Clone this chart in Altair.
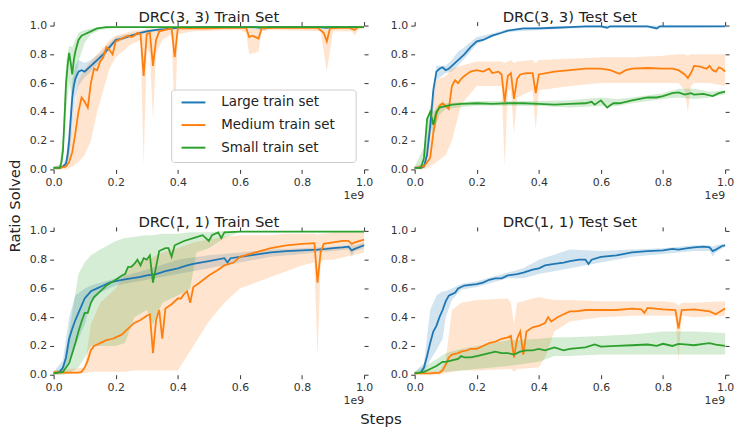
import altair as alt
import pandas as pd

SERIES = ["Large train set", "Medium train set", "Small train set"]
COLORS = ["#1f77b4", "#ff7f0e", "#2ca02c"]
TITLES = ["DRC(3, 3) Train Set", "DRC(3, 3) Test Set", "DRC(1, 1) Train Set", "DRC(1, 1) Test Set"]
TICKS = [0.0, 0.2, 0.4, 0.6, 0.8, 1.0]
X_LABEL = "Steps"
Y_LABEL = "Ratio Solved"
X_EXP = "1e9"

# ---------- DRC(3, 3) Train Set ----------
TL_LARGE_X = [0, 0.02, 0.03, 0.04, 0.045, 0.05, 0.055, 0.06, 0.065, 0.07, 0.08, 0.09, 0.1, 0.11, 0.12, 0.13, 0.14, 0.15, 0.16, 0.18, 0.2, 0.22, 0.25, 0.28, 0.3, 0.33, 0.36, 0.4, 0.45, 0.5, 0.55, 0.6, 0.65, 0.68, 0.7, 0.75, 0.8, 0.85, 0.88, 0.9, 0.95, 1.0]
TL_LARGE_Y = [0.01, 0.01, 0.02, 0.04, 0.1, 0.2, 0.35, 0.5, 0.58, 0.63, 0.68, 0.69, 0.68, 0.7, 0.72, 0.74, 0.76, 0.78, 0.8, 0.85, 0.9, 0.91, 0.93, 0.95, 0.96, 0.97, 0.975, 0.985, 0.985, 0.99, 0.99, 0.99, 0.99, 0.98, 0.99, 0.99, 0.99, 0.99, 0.985, 0.99, 0.99, 0.99]
TL_LARGE_BX = [0, 0.03, 0.04, 0.05, 0.06, 0.07, 0.08, 0.1, 0.12, 0.15, 0.2, 0.25, 0.3, 0.4, 0.5, 0.6, 0.68, 0.7, 0.8, 0.9, 1.0]
TL_LARGE_LO = [0.0, 0.01, 0.02, 0.08, 0.3, 0.5, 0.58, 0.64, 0.68, 0.75, 0.88, 0.92, 0.95, 0.98, 0.985, 0.985, 0.97, 0.985, 0.985, 0.985, 0.985]
TL_LARGE_HI = [0.02, 0.03, 0.08, 0.3, 0.62, 0.72, 0.76, 0.74, 0.76, 0.81, 0.92, 0.945, 0.97, 0.99, 0.995, 0.995, 0.99, 0.995, 0.995, 0.995, 0.995]

TL_MED_X = [0, 0.02, 0.04, 0.05, 0.06, 0.07, 0.08, 0.09, 0.1, 0.11, 0.12, 0.13, 0.14, 0.15, 0.16, 0.17, 0.18, 0.19, 0.2, 0.22, 0.24, 0.25, 0.26, 0.27, 0.28, 0.29, 0.3, 0.31, 0.32, 0.33, 0.34, 0.36, 0.38, 0.39, 0.4, 0.45, 0.5, 0.55, 0.6, 0.62, 0.63, 0.64, 0.65, 0.66, 0.67, 0.7, 0.75, 0.8, 0.85, 0.87, 0.88, 0.89, 0.92, 0.95, 0.97, 0.98, 1.0]
TL_MED_Y = [0.01, 0.01, 0.02, 0.05, 0.12, 0.25, 0.4, 0.5, 0.47, 0.43, 0.6, 0.7, 0.69, 0.75, 0.78, 0.85, 0.83, 0.8, 0.89, 0.91, 0.93, 0.92, 0.93, 0.95, 0.94, 0.65, 0.94, 0.95, 0.72, 0.9, 0.96, 0.97, 0.98, 0.78, 0.98, 0.98, 0.98, 0.985, 0.985, 0.985, 0.92, 0.93, 0.92, 0.91, 0.98, 0.985, 0.985, 0.985, 0.985, 0.95, 0.89, 0.98, 0.985, 0.985, 0.97, 0.99, 0.99]
TL_MED_BX = [0, 0.04, 0.06, 0.08, 0.1, 0.12, 0.14, 0.16, 0.18, 0.2, 0.25, 0.28, 0.29, 0.3, 0.31, 0.32, 0.33, 0.35, 0.38, 0.39, 0.4, 0.45, 0.6, 0.62, 0.63, 0.66, 0.67, 0.7, 0.86, 0.88, 0.9, 0.96, 0.97, 0.98, 1.0]
TL_MED_LO = [0.0, 0.0, 0.02, 0.05, 0.1, 0.2, 0.4, 0.55, 0.7, 0.78, 0.87, 0.9, 0.02, 0.85, 0.8, 0.35, 0.8, 0.9, 0.94, 0.3, 0.94, 0.96, 0.97, 0.95, 0.8, 0.82, 0.96, 0.97, 0.96, 0.68, 0.96, 0.96, 0.93, 0.97, 0.98]
TL_MED_HI = [0.02, 0.04, 0.3, 0.62, 0.7, 0.75, 0.8, 0.85, 0.9, 0.93, 0.96, 0.97, 0.97, 0.98, 0.98, 0.98, 0.98, 0.99, 0.99, 0.99, 0.99, 0.995, 0.995, 0.995, 0.99, 0.99, 0.995, 0.995, 0.995, 0.99, 0.995, 0.995, 0.99, 0.995, 0.995]

TL_SMALL_X = [0, 0.02, 0.025, 0.03, 0.035, 0.04, 0.045, 0.05, 0.055, 0.06, 0.065, 0.07, 0.08, 0.09, 0.1, 0.12, 0.14, 0.17, 0.2, 0.3, 0.4, 0.5, 0.6, 0.7, 0.8, 0.9, 1.0]
TL_SMALL_Y = [0.01, 0.01, 0.05, 0.13, 0.35, 0.6, 0.72, 0.81, 0.74, 0.66, 0.76, 0.82, 0.9, 0.93, 0.94, 0.96, 0.98, 0.99, 0.99, 0.99, 0.99, 0.99, 0.99, 0.99, 0.99, 0.99, 0.99]
TL_SMALL_BX = [0, 0.02, 0.03, 0.04, 0.05, 0.06, 0.07, 0.08, 0.1, 0.12, 0.15, 0.2, 1.0]
TL_SMALL_LO = [0.0, 0.0, 0.05, 0.4, 0.6, 0.5, 0.6, 0.75, 0.88, 0.94, 0.97, 0.985, 0.985]
TL_SMALL_HI = [0.02, 0.03, 0.25, 0.75, 0.86, 0.85, 0.9, 0.95, 0.97, 0.98, 0.99, 0.995, 0.995]

# ---------- DRC(3, 3) Test Set ----------
TR_LARGE_X = [0, 0.02, 0.03, 0.04, 0.05, 0.06, 0.07, 0.08, 0.09, 0.1, 0.11, 0.12, 0.14, 0.16, 0.18, 0.2, 0.22, 0.25, 0.28, 0.3, 0.35, 0.4, 0.45, 0.5, 0.55, 0.6, 0.62, 0.63, 0.7, 0.75, 0.78, 0.79, 0.85, 0.9, 0.95, 1.0]
TR_LARGE_Y = [0.01, 0.01, 0.02, 0.1, 0.3, 0.55, 0.68, 0.7, 0.71, 0.69, 0.7, 0.72, 0.76, 0.8, 0.85, 0.89, 0.9, 0.93, 0.95, 0.965, 0.98, 0.98, 0.985, 0.99, 0.995, 0.995, 0.985, 0.995, 0.995, 0.995, 0.98, 0.995, 0.995, 0.995, 0.995, 0.995]
TR_LARGE_BX = [0, 0.03, 0.05, 0.07, 0.1, 0.12, 0.14, 0.16, 0.2, 0.25, 0.3, 0.4, 0.5, 0.6, 0.7, 0.8, 0.9, 1.0]
TR_LARGE_LO = [0, 0.01, 0.22, 0.62, 0.67, 0.68, 0.72, 0.77, 0.87, 0.92, 0.955, 0.97, 0.98, 0.985, 0.985, 0.985, 0.985, 0.99]
TR_LARGE_HI = [0.02, 0.04, 0.38, 0.72, 0.72, 0.76, 0.82, 0.85, 0.92, 0.945, 0.975, 0.99, 0.995, 1.0, 1.0, 1.0, 1.0, 1.0]

TR_MED_X = [0, 0.03, 0.05, 0.06, 0.07, 0.08, 0.09, 0.1, 0.11, 0.12, 0.13, 0.14, 0.15, 0.16, 0.18, 0.2, 0.22, 0.24, 0.25, 0.27, 0.28, 0.29, 0.3, 0.31, 0.32, 0.33, 0.34, 0.36, 0.38, 0.39, 0.4, 0.45, 0.5, 0.55, 0.6, 0.63, 0.66, 0.68, 0.7, 0.75, 0.8, 0.83, 0.85, 0.87, 0.88, 0.89, 0.9, 0.92, 0.94, 0.95, 0.96, 0.97, 0.98, 0.99, 1.0]
TR_MED_Y = [0.01, 0.02, 0.08, 0.25, 0.38, 0.44, 0.46, 0.44, 0.42, 0.58, 0.62, 0.6, 0.63, 0.65, 0.68, 0.69, 0.68, 0.7, 0.67, 0.68, 0.66, 0.47, 0.65, 0.67, 0.49, 0.63, 0.66, 0.67, 0.67, 0.53, 0.66, 0.68, 0.69, 0.7, 0.7, 0.69, 0.665, 0.69, 0.7, 0.705, 0.7, 0.7, 0.69, 0.66, 0.635, 0.67, 0.72, 0.715, 0.7, 0.72, 0.69, 0.68, 0.71, 0.7, 0.68]
TR_MED_BX = [0, 0.03, 0.05, 0.07, 0.1, 0.12, 0.15, 0.2, 0.28, 0.29, 0.3, 0.31, 0.32, 0.33, 0.38, 0.39, 0.4, 0.5, 0.6, 0.7, 0.8, 0.85, 0.87, 0.88, 0.89, 0.9, 0.95, 1.0]
TR_MED_LO = [0, 0.0, 0.02, 0.05, 0.1, 0.2, 0.45, 0.58, 0.58, 0.02, 0.55, 0.55, 0.25, 0.5, 0.55, 0.27, 0.55, 0.58, 0.6, 0.6, 0.6, 0.6, 0.55, 0.4, 0.58, 0.6, 0.6, 0.58]
TR_MED_HI = [0.02, 0.04, 0.3, 0.62, 0.65, 0.7, 0.72, 0.75, 0.75, 0.74, 0.75, 0.76, 0.74, 0.75, 0.76, 0.74, 0.76, 0.77, 0.78, 0.78, 0.79, 0.8, 0.8, 0.79, 0.8, 0.8, 0.8, 0.8]

TR_SMALL_X = [0, 0.02, 0.03, 0.04, 0.05, 0.055, 0.06, 0.07, 0.08, 0.1, 0.12, 0.15, 0.2, 0.25, 0.3, 0.35, 0.4, 0.45, 0.5, 0.55, 0.57, 0.58, 0.6, 0.62, 0.64, 0.66, 0.7, 0.75, 0.78, 0.8, 0.83, 0.85, 0.87, 0.89, 0.9, 0.93, 0.96, 0.98, 1.0]
TR_SMALL_Y = [0.01, 0.01, 0.08, 0.35, 0.4, 0.36, 0.31, 0.4, 0.43, 0.44, 0.45, 0.455, 0.46, 0.455, 0.46, 0.46, 0.455, 0.45, 0.455, 0.46, 0.47, 0.45, 0.48, 0.43, 0.46, 0.46, 0.48, 0.5, 0.5, 0.51, 0.53, 0.535, 0.52, 0.53, 0.52, 0.525, 0.51, 0.53, 0.54]
TR_SMALL_BX = [0, 0.03, 0.05, 0.06, 0.08, 0.1, 0.2, 0.4, 0.5, 0.6, 0.65, 0.7, 0.8, 0.85, 0.9, 0.95, 1.0]
TR_SMALL_LO = [0, 0.03, 0.3, 0.25, 0.38, 0.42, 0.445, 0.44, 0.43, 0.44, 0.44, 0.46, 0.49, 0.5, 0.49, 0.5, 0.52]
TR_SMALL_HI = [0.02, 0.15, 0.45, 0.4, 0.46, 0.46, 0.475, 0.475, 0.48, 0.5, 0.49, 0.5, 0.53, 0.56, 0.56, 0.54, 0.55]

# ---------- DRC(1, 1) Train Set ----------
BL_LARGE_X = [0, 0.02, 0.03, 0.04, 0.05, 0.06, 0.07, 0.08, 0.09, 0.1, 0.12, 0.14, 0.16, 0.18, 0.2, 0.22, 0.25, 0.28, 0.3, 0.33, 0.36, 0.4, 0.43, 0.45, 0.5, 0.55, 0.56, 0.57, 0.6, 0.65, 0.7, 0.75, 0.8, 0.85, 0.88, 0.9, 0.93, 0.95, 0.96, 0.97, 1.0]
BL_LARGE_Y = [0.01, 0.02, 0.05, 0.12, 0.25, 0.32, 0.38, 0.43, 0.48, 0.53, 0.58, 0.6, 0.62, 0.64, 0.65, 0.66, 0.67, 0.68, 0.69, 0.7, 0.72, 0.74, 0.76, 0.77, 0.79, 0.81, 0.78, 0.81, 0.82, 0.835, 0.85, 0.86, 0.865, 0.87, 0.875, 0.88, 0.885, 0.89, 0.865, 0.875, 0.9]
BL_LARGE_BX = [0, 0.03, 0.05, 0.07, 0.1, 0.12, 0.15, 0.2, 0.3, 0.4, 0.5, 0.6, 0.7, 0.8, 0.9, 0.95, 0.96, 0.97, 1.0]
BL_LARGE_LO = [0, 0.02, 0.1, 0.2, 0.35, 0.5, 0.57, 0.62, 0.66, 0.7, 0.74, 0.78, 0.82, 0.84, 0.86, 0.87, 0.82, 0.86, 0.88]
BL_LARGE_HI = [0.02, 0.1, 0.4, 0.55, 0.6, 0.62, 0.64, 0.67, 0.73, 0.8, 0.83, 0.85, 0.87, 0.88, 0.89, 0.9, 0.9, 0.9, 0.92]

BL_MED_X = [0, 0.02, 0.05, 0.08, 0.09, 0.1, 0.11, 0.12, 0.13, 0.15, 0.17, 0.19, 0.2, 0.22, 0.24, 0.26, 0.28, 0.3, 0.31, 0.32, 0.33, 0.34, 0.35, 0.36, 0.38, 0.4, 0.41, 0.42, 0.43, 0.44, 0.45, 0.47, 0.5, 0.53, 0.55, 0.58, 0.6, 0.65, 0.7, 0.75, 0.8, 0.84, 0.85, 0.86, 0.87, 0.9, 0.93, 0.95, 0.96, 0.97, 1.0]
BL_MED_Y = [0.02, 0.015, 0.015, 0.015, 0.02, 0.05, 0.1, 0.17, 0.2, 0.22, 0.24, 0.25, 0.26, 0.28, 0.32, 0.36, 0.38, 0.41, 0.42, 0.15, 0.38, 0.45, 0.25, 0.46, 0.49, 0.53, 0.53, 0.56, 0.58, 0.5, 0.61, 0.64, 0.69, 0.73, 0.76, 0.78, 0.82, 0.85, 0.88, 0.9, 0.91, 0.915, 0.64, 0.85, 0.91, 0.92, 0.93, 0.93, 0.91, 0.92, 0.94]
BL_MED_BX = [0, 0.1, 0.12, 0.15, 0.2, 0.23, 0.26, 0.3, 0.35, 0.4, 0.45, 0.5, 0.55, 0.6, 0.65, 0.7, 0.75, 0.8, 0.84, 0.85, 0.86, 0.87, 0.9, 1.0]
BL_MED_LO = [0, 0.01, 0.02, 0.02, 0.02, 0.02, 0.03, 0.03, 0.03, 0.03, 0.2, 0.37, 0.5, 0.6, 0.64, 0.68, 0.72, 0.76, 0.78, 0.12, 0.78, 0.8, 0.8, 0.85]
BL_MED_HI = [0.03, 0.05, 0.35, 0.5, 0.6, 0.7, 0.78, 0.8, 0.85, 0.88, 0.92, 0.94, 0.96, 0.97, 0.97, 0.97, 0.98, 0.98, 0.98, 0.97, 0.98, 0.98, 0.99, 0.99]

BL_SMALL_X = [0, 0.03, 0.05, 0.06, 0.07, 0.08, 0.09, 0.1, 0.11, 0.12, 0.13, 0.15, 0.17, 0.2, 0.22, 0.23, 0.24, 0.25, 0.26, 0.27, 0.28, 0.29, 0.3, 0.31, 0.32, 0.34, 0.36, 0.37, 0.38, 0.39, 0.42, 0.45, 0.48, 0.5, 0.51, 0.53, 0.54, 0.55, 0.6, 0.7, 0.8, 0.9, 1.0]
BL_SMALL_Y = [0.01, 0.02, 0.08, 0.15, 0.22, 0.3, 0.37, 0.43, 0.43, 0.5, 0.54, 0.58, 0.62, 0.66, 0.69, 0.7, 0.75, 0.75, 0.77, 0.8, 0.76, 0.81, 0.8, 0.83, 0.64, 0.86, 0.88, 0.88, 0.82, 0.9, 0.93, 0.95, 0.97, 0.93, 0.97, 0.99, 0.95, 0.99, 0.995, 0.995, 0.995, 0.995, 0.995]
BL_SMALL_BX = [0, 0.03, 0.05, 0.08, 0.1, 0.12, 0.15, 0.2, 0.23, 0.26, 0.3, 0.32, 0.35, 0.4, 0.44, 0.46, 0.5, 0.55, 0.6, 1.0]
BL_SMALL_LO = [0, 0.0, 0.01, 0.05, 0.12, 0.2, 0.2, 0.2, 0.22, 0.4, 0.45, 0.35, 0.5, 0.55, 0.6, 0.85, 0.88, 0.95, 0.99, 0.99]
BL_SMALL_HI = [0.02, 0.05, 0.3, 0.7, 0.78, 0.83, 0.87, 0.93, 0.95, 0.96, 0.97, 0.97, 0.98, 0.98, 0.99, 0.99, 0.99, 1.0, 1.0, 1.0]

# ---------- DRC(1, 1) Test Set ----------
BR_LARGE_X = [0, 0.02, 0.03, 0.04, 0.05, 0.06, 0.07, 0.08, 0.09, 0.1, 0.11, 0.12, 0.13, 0.14, 0.15, 0.16, 0.18, 0.2, 0.22, 0.24, 0.26, 0.28, 0.3, 0.33, 0.35, 0.38, 0.4, 0.42, 0.45, 0.48, 0.5, 0.53, 0.55, 0.56, 0.57, 0.6, 0.65, 0.7, 0.75, 0.8, 0.83, 0.85, 0.88, 0.9, 0.93, 0.95, 0.96, 0.97, 0.99, 1.0]
BR_LARGE_Y = [0.01, 0.015, 0.05, 0.13, 0.22, 0.3, 0.34, 0.4, 0.45, 0.51, 0.55, 0.56, 0.57, 0.6, 0.61, 0.62, 0.625, 0.63, 0.64, 0.66, 0.67, 0.67, 0.69, 0.7, 0.71, 0.73, 0.74, 0.76, 0.77, 0.78, 0.79, 0.8, 0.8, 0.77, 0.8, 0.82, 0.83, 0.85, 0.86, 0.865, 0.875, 0.87, 0.88, 0.885, 0.89, 0.885, 0.86, 0.87, 0.895, 0.9]
BR_LARGE_BX = [0, 0.03, 0.05, 0.07, 0.09, 0.1, 0.12, 0.15, 0.2, 0.3, 0.35, 0.4, 0.5, 0.6, 0.7, 0.8, 0.9, 0.95, 0.96, 0.97, 1.0]
BR_LARGE_LO = [0, 0.02, 0.1, 0.17, 0.25, 0.4, 0.52, 0.59, 0.61, 0.67, 0.67, 0.7, 0.74, 0.78, 0.82, 0.84, 0.86, 0.86, 0.82, 0.85, 0.89]
BR_LARGE_HI = [0.02, 0.08, 0.45, 0.55, 0.58, 0.58, 0.6, 0.63, 0.65, 0.71, 0.74, 0.8, 0.87, 0.86, 0.87, 0.88, 0.9, 0.9, 0.89, 0.9, 0.91]

BR_MED_X = [0, 0.05, 0.08, 0.09, 0.1, 0.11, 0.12, 0.14, 0.15, 0.17, 0.18, 0.2, 0.22, 0.24, 0.26, 0.28, 0.3, 0.31, 0.32, 0.33, 0.34, 0.35, 0.36, 0.38, 0.4, 0.42, 0.43, 0.44, 0.46, 0.48, 0.5, 0.52, 0.55, 0.6, 0.65, 0.7, 0.73, 0.74, 0.75, 0.8, 0.84, 0.85, 0.86, 0.9, 0.95, 0.97, 1.0]
BR_MED_Y = [0.01, 0.01, 0.015, 0.03, 0.07, 0.12, 0.14, 0.15, 0.16, 0.17, 0.18, 0.18, 0.2, 0.22, 0.23, 0.25, 0.26, 0.27, 0.12, 0.25, 0.3, 0.14, 0.3, 0.33, 0.34, 0.36, 0.4, 0.37, 0.4, 0.42, 0.44, 0.44, 0.45, 0.45, 0.45, 0.46, 0.455, 0.43, 0.465, 0.455, 0.45, 0.32, 0.45, 0.455, 0.44, 0.42, 0.46]
BR_MED_BX = [0, 0.08, 0.1, 0.12, 0.15, 0.2, 0.3, 0.31, 0.32, 0.33, 0.4, 0.42, 0.45, 0.5, 0.6, 0.7, 0.8, 0.84, 0.85, 0.86, 0.9, 1.0]
BR_MED_LO = [0, 0.0, 0.01, 0.02, 0.03, 0.03, 0.04, 0.04, 0.02, 0.04, 0.05, 0.12, 0.3, 0.37, 0.4, 0.41, 0.41, 0.41, 0.1, 0.41, 0.4, 0.41]
BR_MED_HI = [0.02, 0.03, 0.1, 0.45, 0.5, 0.52, 0.53, 0.5, 0.35, 0.5, 0.54, 0.53, 0.52, 0.52, 0.51, 0.51, 0.51, 0.5, 0.48, 0.5, 0.5, 0.51]

BR_SMALL_X = [0, 0.03, 0.05, 0.07, 0.09, 0.1, 0.12, 0.14, 0.15, 0.16, 0.18, 0.2, 0.22, 0.24, 0.26, 0.28, 0.3, 0.32, 0.34, 0.36, 0.38, 0.4, 0.42, 0.45, 0.48, 0.5, 0.55, 0.58, 0.6, 0.65, 0.7, 0.75, 0.78, 0.8, 0.83, 0.85, 0.88, 0.9, 0.93, 0.95, 0.97, 1.0]
BR_SMALL_Y = [0.01, 0.02, 0.04, 0.06, 0.09, 0.09, 0.1, 0.11, 0.13, 0.12, 0.12, 0.13, 0.14, 0.15, 0.16, 0.15, 0.15, 0.14, 0.16, 0.17, 0.17, 0.18, 0.17, 0.19, 0.17, 0.18, 0.19, 0.21, 0.195, 0.2, 0.205, 0.21, 0.2, 0.215, 0.2, 0.215, 0.21, 0.205, 0.215, 0.22, 0.21, 0.2]
BR_SMALL_BX = [0, 0.05, 0.1, 0.15, 0.2, 0.3, 0.4, 0.45, 0.5, 0.6, 0.7, 0.8, 0.9, 1.0]
BR_SMALL_LO = [0, 0.02, 0.02, 0.03, 0.04, 0.06, 0.09, 0.13, 0.13, 0.14, 0.14, 0.14, 0.14, 0.14]
BR_SMALL_HI = [0.02, 0.08, 0.15, 0.18, 0.2, 0.24, 0.25, 0.26, 0.26, 0.27, 0.28, 0.3, 0.3, 0.29]

PANEL_DATA = [
    [(TL_LARGE_X, TL_LARGE_Y, TL_LARGE_BX, TL_LARGE_LO, TL_LARGE_HI),
     (TL_MED_X, TL_MED_Y, TL_MED_BX, TL_MED_LO, TL_MED_HI),
     (TL_SMALL_X, TL_SMALL_Y, TL_SMALL_BX, TL_SMALL_LO, TL_SMALL_HI)],
    [(TR_LARGE_X, TR_LARGE_Y, TR_LARGE_BX, TR_LARGE_LO, TR_LARGE_HI),
     (TR_MED_X, TR_MED_Y, TR_MED_BX, TR_MED_LO, TR_MED_HI),
     (TR_SMALL_X, TR_SMALL_Y, TR_SMALL_BX, TR_SMALL_LO, TR_SMALL_HI)],
    [(BL_LARGE_X, BL_LARGE_Y, BL_LARGE_BX, BL_LARGE_LO, BL_LARGE_HI),
     (BL_MED_X, BL_MED_Y, BL_MED_BX, BL_MED_LO, BL_MED_HI),
     (BL_SMALL_X, BL_SMALL_Y, BL_SMALL_BX, BL_SMALL_LO, BL_SMALL_HI)],
    [(BR_LARGE_X, BR_LARGE_Y, BR_LARGE_BX, BR_LARGE_LO, BR_LARGE_HI),
     (BR_MED_X, BR_MED_Y, BR_MED_BX, BR_MED_LO, BR_MED_HI),
     (BR_SMALL_X, BR_SMALL_Y, BR_SMALL_BX, BR_SMALL_LO, BR_SMALL_HI)],
]

W, H = 313, 145
FONT = "DejaVu Sans"

xs = alt.Scale(domain=[0, 1], nice=False, zero=False)
ys = alt.Scale(domain=[0, 1], nice=False, zero=False)

# legend box layout (pixels inside the top-left panel)
LEG_LEFT, LEG_RIGHT, LEG_TOP, LEG_BOTTOM = 119, 305, 65, 138
LEG_ROW0, LEG_ROW_STEP = 77.5, 22.8
LEG_SYM_X0, LEG_SYM_X1, LEG_TEXT_X = 129, 153, 169


def legend_layers():
    out = [alt.Chart(pd.DataFrame({"k": [0]})).mark_rect(
        fill="white", fillOpacity=0.9, stroke="#cccccc", strokeWidth=1, cornerRadius=3
    ).encode(x=alt.value(LEG_LEFT), x2=alt.value(LEG_RIGHT),
             y=alt.value(LEG_TOP), y2=alt.value(LEG_BOTTOM))]
    for i, (name, col) in enumerate(zip(SERIES, COLORS)):
        yy = LEG_ROW0 + i * LEG_ROW_STEP
        out.append(alt.Chart(pd.DataFrame({"t": [name]})).mark_rule(
            color=col, strokeWidth=2
        ).encode(x=alt.value(LEG_SYM_X0), x2=alt.value(LEG_SYM_X1), y=alt.value(yy)))
        out.append(alt.Chart(pd.DataFrame({"t": [name]})).mark_text(
            align="left", baseline="middle", font=FONT, fontSize=13.5, color="#222222"
        ).encode(x=alt.value(LEG_TEXT_X), y=alt.value(yy), text="t:N"))
    return out


def make_panel(idx):
    line_rows, band_rows = [], []
    for name, (x, y, bx, lo, hi) in zip(SERIES, PANEL_DATA[idx]):
        assert len(x) == len(y), (idx, name, "line", len(x), len(y))
        assert len(bx) == len(lo) == len(hi), (idx, name, "band", len(bx), len(lo), len(hi))
        for a, b in zip(x, y):
            line_rows.append({"series": name, "x": a, "y": b})
        for a, l, h in zip(bx, lo, hi):
            band_rows.append({"band_series": name, "bx": a, "lo": l, "hi": h})
    lines = pd.DataFrame(line_rows)
    bands = pd.DataFrame(band_rows)

    band = alt.Chart(bands).mark_area(opacity=0.2, strokeWidth=0).encode(
        x=alt.X("bx:Q", scale=xs, axis=alt.Axis(orient="top", labels=False, grid=False, title=None,
                                                values=TICKS, domain=False)),
        y=alt.Y("lo:Q", scale=ys, axis=alt.Axis(orient="right", labels=False, grid=False, title=None,
                                                values=TICKS, domain=False)),
        y2="hi:Q",
        fill=alt.Fill("band_series:N", scale=alt.Scale(domain=SERIES, range=COLORS), legend=None),
    )
    line = alt.Chart(lines).mark_line(strokeWidth=1.8).encode(
        x=alt.X("x:Q", scale=xs, axis=alt.Axis(orient="bottom", values=TICKS, format=".1f", title=None,
                                               labelFlush=False, labelOverlap=False)),
        y=alt.Y("y:Q", scale=ys, axis=alt.Axis(orient="left", values=TICKS, format=".1f", title=None,
                                               labelFlush=False, labelOverlap=False)),
        color=alt.Color("series:N", scale=alt.Scale(domain=SERIES, range=COLORS),
                        legend=None, sort=SERIES),
    )
    exp = alt.Chart(pd.DataFrame({"t": [X_EXP]})).mark_text(
        align="right", baseline="middle", font=FONT, fontSize=11, color="#333333"
    ).encode(x=alt.value(W), y=alt.value(H + 27), text="t:N")
    layers = [band, line, exp]
    if idx == 0:
        layers.append(alt.Chart(pd.DataFrame({"t": [Y_LABEL]})).mark_text(
            angle=270, align="center", baseline="middle", font=FONT, fontSize=15, color="#222222"
        ).encode(x=alt.value(-39), y=alt.value(182), text="t:N"))
        layers.extend(legend_layers())
    if idx == 2:
        layers.append(alt.Chart(pd.DataFrame({"t": [X_LABEL]})).mark_text(
            align="center", baseline="middle", font=FONT, fontSize=15, color="#222222"
        ).encode(x=alt.value(330), y=alt.value(190), text="t:N"))
    return alt.layer(*layers).resolve_axis(x="independent", y="independent").properties(
        width=W, height=H,
        title=alt.TitleParams(TITLES[idx], fontSize=15, font=FONT, fontWeight="normal",
                              color="#222222", offset=-5, anchor="middle"),
    )


chart = alt.concat(
    make_panel(0), make_panel(1), make_panel(2), make_panel(3),
    columns=2, spacing=alt.RowColnumber(row=62, column=51), bounds="flush",
).resolve_scale(color="independent", fill="independent").properties(
    padding={"left": 0, "top": 0, "right": 5, "bottom": 0}
).configure_view(stroke=None).configure_axis(
    labelFont=FONT, labelFontSize=11, labelColor="#333333",
    tickColor="#333333", tickSize=4, tickWidth=1, labelPadding=3,
    gridColor="#d5d5d5", gridWidth=1, domain=False,
)

chart.save("out.html", embed_options={"renderer": "svg", "actions": False})
